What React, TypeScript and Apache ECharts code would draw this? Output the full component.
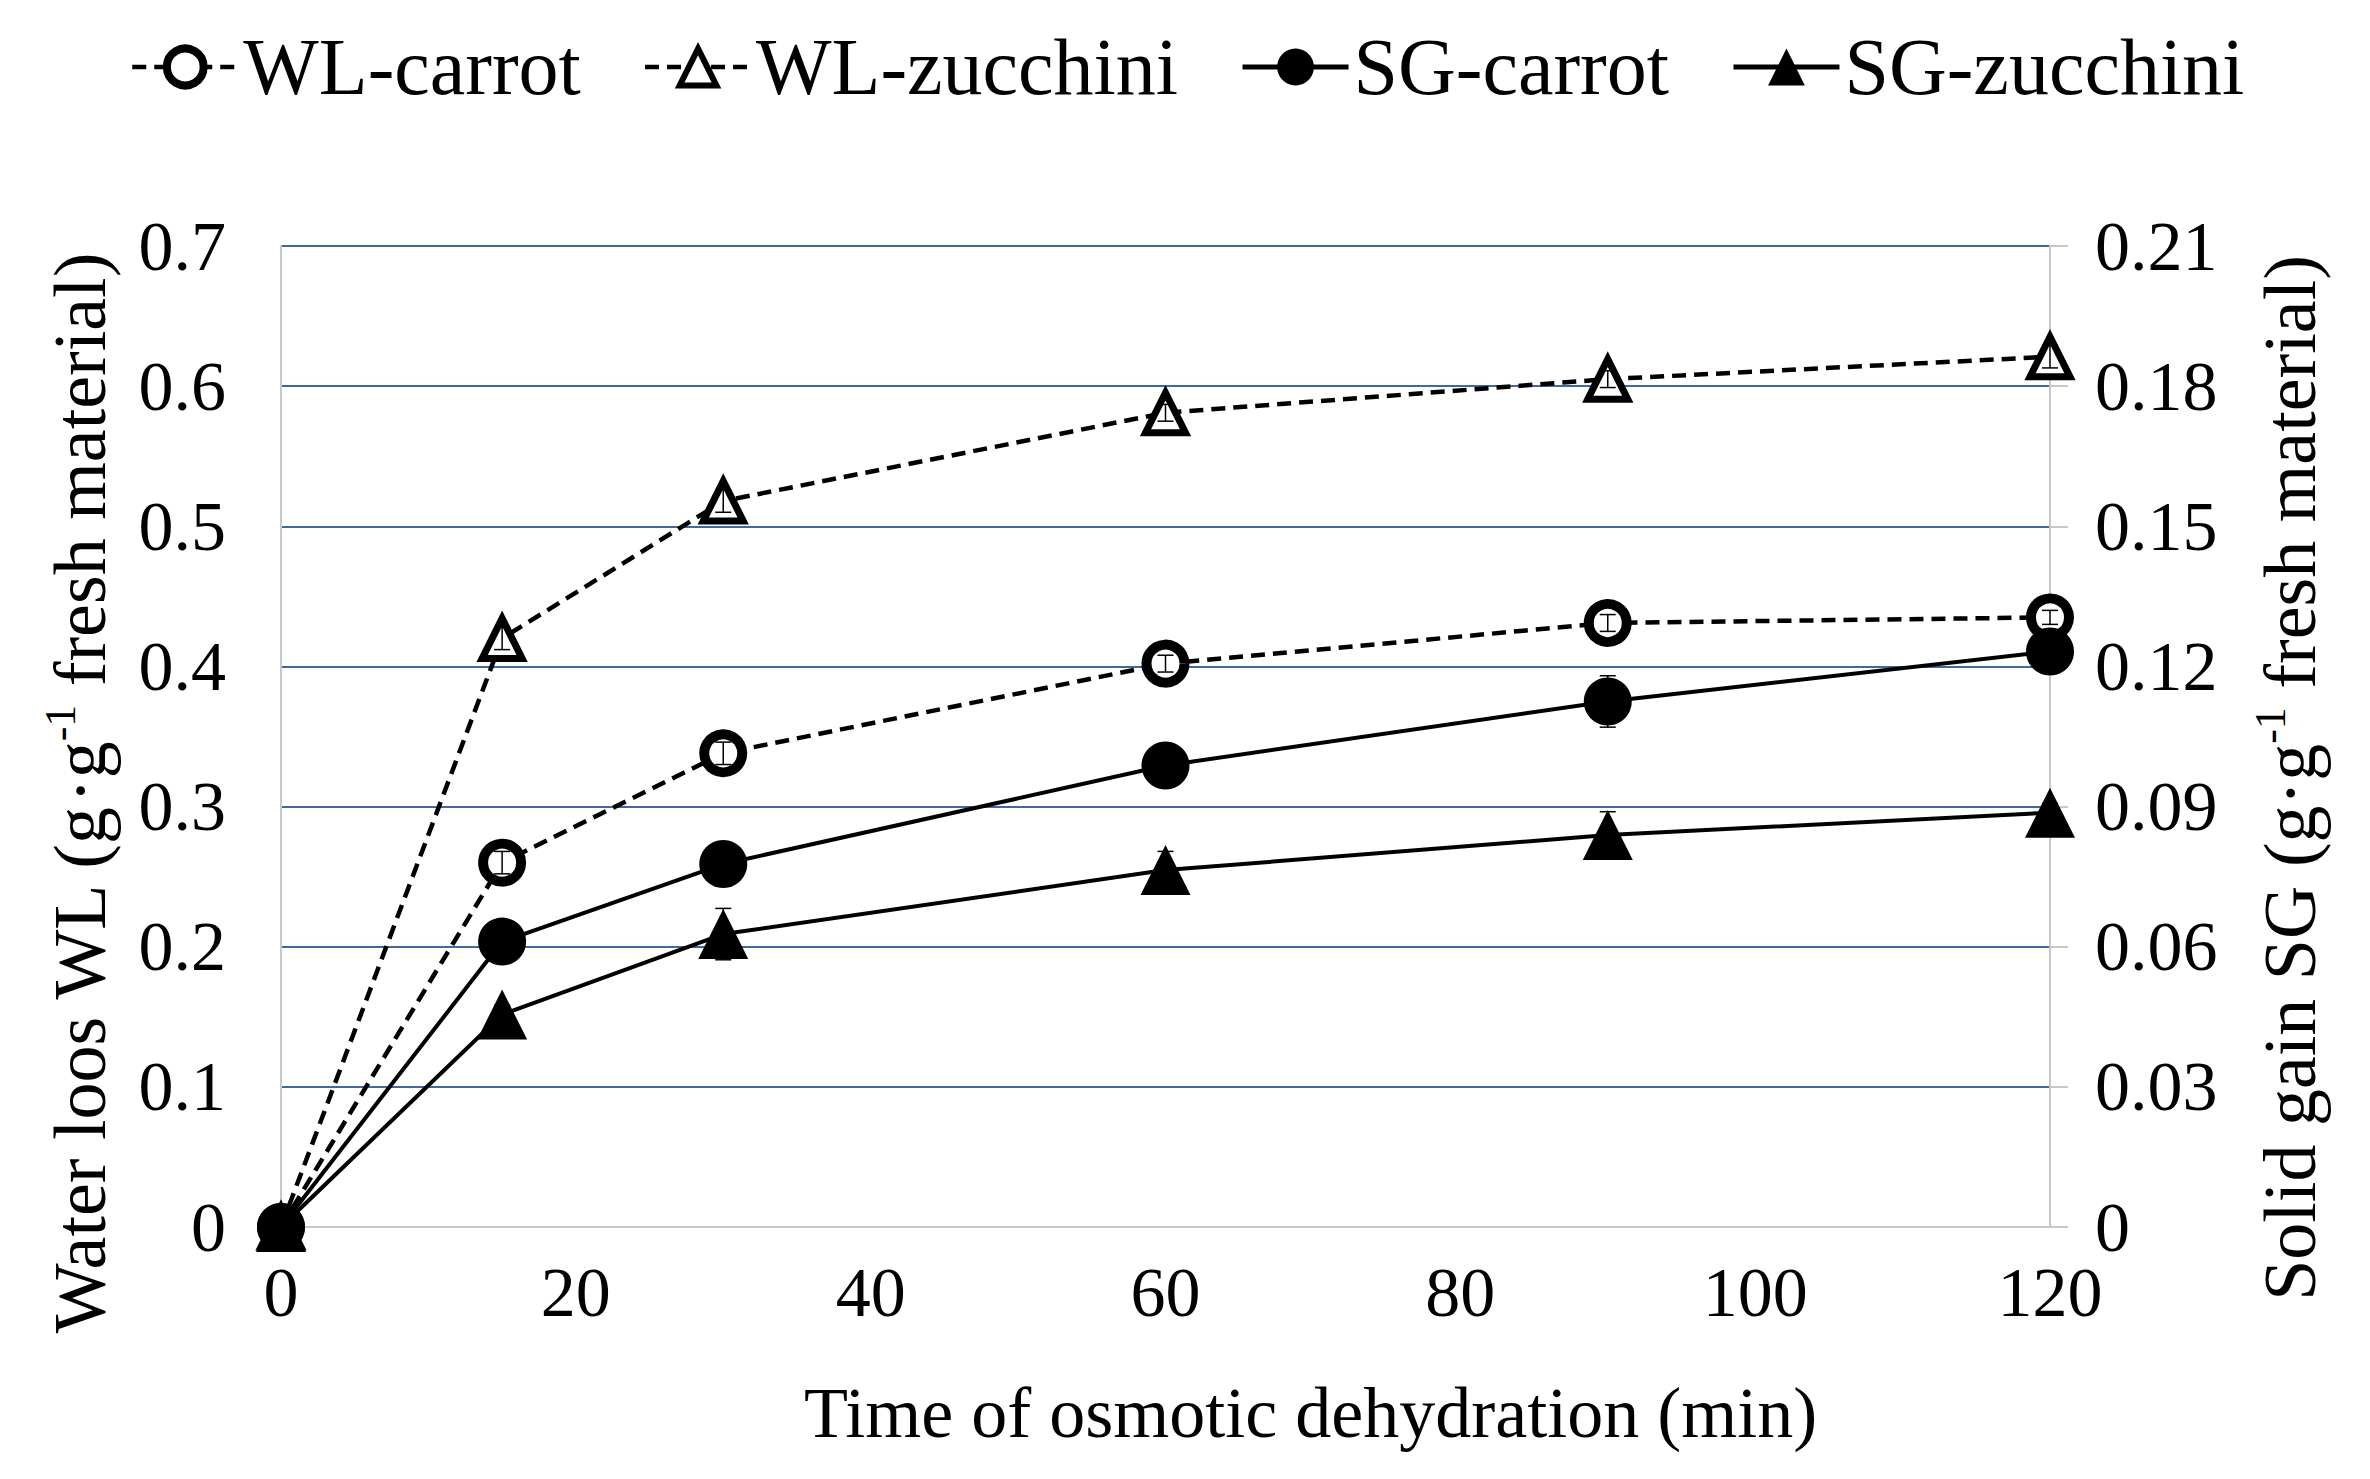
import React, { useRef, useEffect } from 'react';
import * as echarts from 'echarts';

// time of osmotic dehydration (min)
const TIME = [0, 15, 30, 60, 90, 120];
const X_TICKS = { min: 0, max: 120, interval: 20 };

// water loss, left axis (g/g fresh material)
const WL_CARROT = [0, 0.26, 0.338, 0.402, 0.431, 0.435];
const WL_ZUCCHINI = [0, 0.42, 0.518, 0.581, 0.605, 0.621];
// solid gain, right axis (g/g fresh material)
const SG_CARROT = [0, 0.0611, 0.0777, 0.0988, 0.1125, 0.1232];
const SG_ZUCCHINI = [0, 0.0455, 0.0627, 0.0764, 0.0839, 0.0887];

// error bars (half width)
const WL_CARROT_ERR = [0, 0.008, 0.008, 0.006, 0.006, 0.005];
const WL_ZUCCHINI_ERR = [0, 0.008, 0.008, 0.006, 0.006, 0.008];
const SG_CARROT_ERR = [0, 0.002, 0.002, 0.004, 0.0055, 0.002];
const SG_ZUCCHINI_ERR = [0, 0.002, 0.0055, 0.004, 0.005, 0.002];

// axis titles, split so the "-1" can be drawn as a superscript
const LEFT_TITLE: [string, boolean][] = [
  ['Water loos WL (g', false],
  ['·', false],
  ['g', false],
  ['-1', true],
  [' fresh material)', false],
];
const RIGHT_TITLE: [string, boolean][] = [
  ['Solid gain SG (g', false],
  ['·', false],
  ['g', false],
  ['-1', true],
  [' fresh material)', false],
];
const X_TITLE = 'Time of osmotic dehydration (min)';

const FONT = 'Liberation Serif, Times New Roman, serif';
const GRID_BLUE = '#41689F';
const AXIS_GREY = '#C8C8C8';
const TITLE_SIZE = 74;
const SUP_SIZE = 44;

const pairs = (vals: number[]) => TIME.map((t, i) => [t, vals[i]]);
const errPairs = (vals: number[], errs: number[]) => TIME.map((t, i) => [t, vals[i], errs[i]]);

const errorBars = (name: string, vals: number[], errs: number[], yAxisIndex: number) => ({
  name: name + '-err',
  type: 'custom',
  yAxisIndex,
  z: 4,
  silent: true,
  encode: { x: 0, y: 1 },
  data: errPairs(vals, errs),
  renderItem: (params: any, api: any) => {
    const x = api.value(0);
    const y = api.value(1);
    const e = api.value(2);
    if (!e) return null;
    const top = api.coord([x, y + e]);
    const bot = api.coord([x, y - e]);
    const w = 8;
    const style = { stroke: '#000', lineWidth: 1.5 };
    return {
      type: 'group',
      children: [
        { type: 'line', shape: { x1: top[0], y1: top[1], x2: bot[0], y2: bot[1] }, style },
        { type: 'line', shape: { x1: top[0] - w, y1: top[1], x2: top[0] + w, y2: top[1] }, style },
        { type: 'line', shape: { x1: bot[0] - w, y1: bot[1], x2: bot[0] + w, y2: bot[1] }, style },
      ],
    };
  },
});

const measure = (text: string, size: number) =>
  new (echarts.graphic as any).Text({ style: { text, fontSize: size, fontFamily: FONT } }).getBoundingRect()
    .width;

// vertical title reading bottom to top, centred on (cx, cy)
const verticalTitle = (parts: [string, boolean][], cx: number, cy: number) => {
  const widths = parts.map(([t, sup]) => measure(t, sup ? SUP_SIZE : TITLE_SIZE));
  const total = widths.reduce((a, b) => a + b, 0);
  let off = -total / 2;
  const children = parts.map(([t, sup], i) => {
    const el = {
      type: 'text',
      x: off,
      y: sup ? -20 : 0,
      style: {
        text: t,
        fontSize: sup ? SUP_SIZE : TITLE_SIZE,
        fontFamily: FONT,
        fill: '#000',
        align: 'left',
        verticalAlign: 'middle',
      },
    };
    off += widths[i];
    return el;
  });
  return { type: 'group', x: cx, y: cy, rotation: Math.PI / 2, children };
};

const DASH = [14, 8];

const LEGEND = [
  {
    name: 'WL-carrot',
    itemStyle: { color: '#fff', borderColor: '#000', borderWidth: 8 },
    lineStyle: { color: '#000', width: 4.5, type: DASH },
  },
  {
    name: 'WL-zucchini',
    itemStyle: { color: '#fff', borderColor: '#000', borderWidth: 6 },
    lineStyle: { color: '#000', width: 4.5, type: DASH },
  },
  { name: 'SG-carrot', itemStyle: { color: '#000' }, lineStyle: { color: '#000', width: 5 } },
  { name: 'SG-zucchini', itemStyle: { color: '#000' }, lineStyle: { color: '#000', width: 5 } },
];

const App: React.FC = () => {
  const chartRef = useRef<HTMLDivElement>(null);

  useEffect(() => {
    document.body.style.margin = '0';
    const chart = echarts.init(chartRef.current, null, { renderer: 'svg' });

    const option = {
      animation: false,
      backgroundColor: '#fff',
      textStyle: { fontFamily: FONT },
      legend: {
        data: LEGEND,
        left: 125,
        top: 22,
        itemWidth: 106,
        itemHeight: 46,
        itemGap: 62,
        textStyle: { fontSize: 80, fontFamily: FONT, color: '#000' },
      },
      graphic: [verticalTitle(LEFT_TITLE, 80, 793), verticalTitle(RIGHT_TITLE, 2290, 778)],
      grid: { left: 281, right: 320, top: 246, bottom: 252 },
      xAxis: {
        type: 'value',
        ...X_TICKS,
        name: X_TITLE,
        nameLocation: 'middle',
        nameGap: 150,
        nameTextStyle: { fontSize: 72, fontFamily: FONT, color: '#000', padding: [0, 0, 0, 290] },
        axisLine: { show: true, lineStyle: { color: AXIS_GREY, width: 2 } },
        axisTick: { show: false },
        splitLine: { show: false },
        axisLabel: { fontSize: 70, fontFamily: FONT, color: '#000', margin: 30 },
      },
      yAxis: [
        {
          type: 'value',
          min: 0,
          max: 0.7,
          interval: 0.1,
          position: 'left',
          axisLine: { show: true, lineStyle: { color: AXIS_GREY, width: 2 } },
          axisTick: { show: false },
          splitLine: { show: true, lineStyle: { color: GRID_BLUE, width: 2 } },
          axisLabel: {
            fontSize: 70,
            fontFamily: FONT,
            color: '#000',
            margin: 55,
            formatter: (v: number) => String(parseFloat(v.toFixed(2))),
          },
        },
        {
          type: 'value',
          min: 0,
          max: 0.21,
          interval: 0.03,
          position: 'right',
          axisLine: { show: true, lineStyle: { color: AXIS_GREY, width: 2 } },
          axisTick: { show: true, length: 18, lineStyle: { color: AXIS_GREY, width: 2 } },
          splitLine: { show: false },
          axisLabel: {
            fontSize: 70,
            fontFamily: FONT,
            color: '#000',
            margin: 45,
            formatter: (v: number) => String(parseFloat(v.toFixed(2))),
          },
        },
      ],
      series: [
        {
          name: 'WL-carrot',
          type: 'line',
          yAxisIndex: 0,
          data: pairs(WL_CARROT),
          symbol: 'circle',
          symbolSize: 38,
          itemStyle: { color: '#fff', borderColor: '#000', borderWidth: 10 },
          lineStyle: { color: '#000', width: 4.5, type: DASH },
          z: 3,
        },
        {
          name: 'WL-zucchini',
          type: 'line',
          yAxisIndex: 0,
          data: pairs(WL_ZUCCHINI),
          symbol: 'triangle',
          symbolSize: 40,
          itemStyle: { color: '#fff', borderColor: '#000', borderWidth: 7 },
          lineStyle: { color: '#000', width: 4.5, type: DASH },
          z: 3,
        },
        {
          name: 'SG-carrot',
          type: 'line',
          yAxisIndex: 1,
          data: pairs(SG_CARROT),
          symbol: 'circle',
          symbolSize: 48,
          itemStyle: { color: '#000', borderColor: '#000', borderWidth: 0 },
          lineStyle: { color: '#000', width: 4 },
          z: 3,
        },
        {
          name: 'SG-zucchini',
          type: 'line',
          yAxisIndex: 1,
          data: pairs(SG_ZUCCHINI),
          symbol: 'triangle',
          symbolSize: 50,
          itemStyle: { color: '#000', borderColor: '#000', borderWidth: 0 },
          lineStyle: { color: '#000', width: 4 },
          z: 3,
        },
        errorBars('WL-carrot', WL_CARROT, WL_CARROT_ERR, 0),
        errorBars('WL-zucchini', WL_ZUCCHINI, WL_ZUCCHINI_ERR, 0),
        errorBars('SG-carrot', SG_CARROT, SG_CARROT_ERR, 1),
        errorBars('SG-zucchini', SG_ZUCCHINI, SG_ZUCCHINI_ERR, 1),
      ],
    };

    chart.setOption(option);
    return () => {
      chart.dispose();
    };
  }, []);

  return <div ref={chartRef} style={{ width: '2370px', height: '1479px' }} />;
};

export default App;
